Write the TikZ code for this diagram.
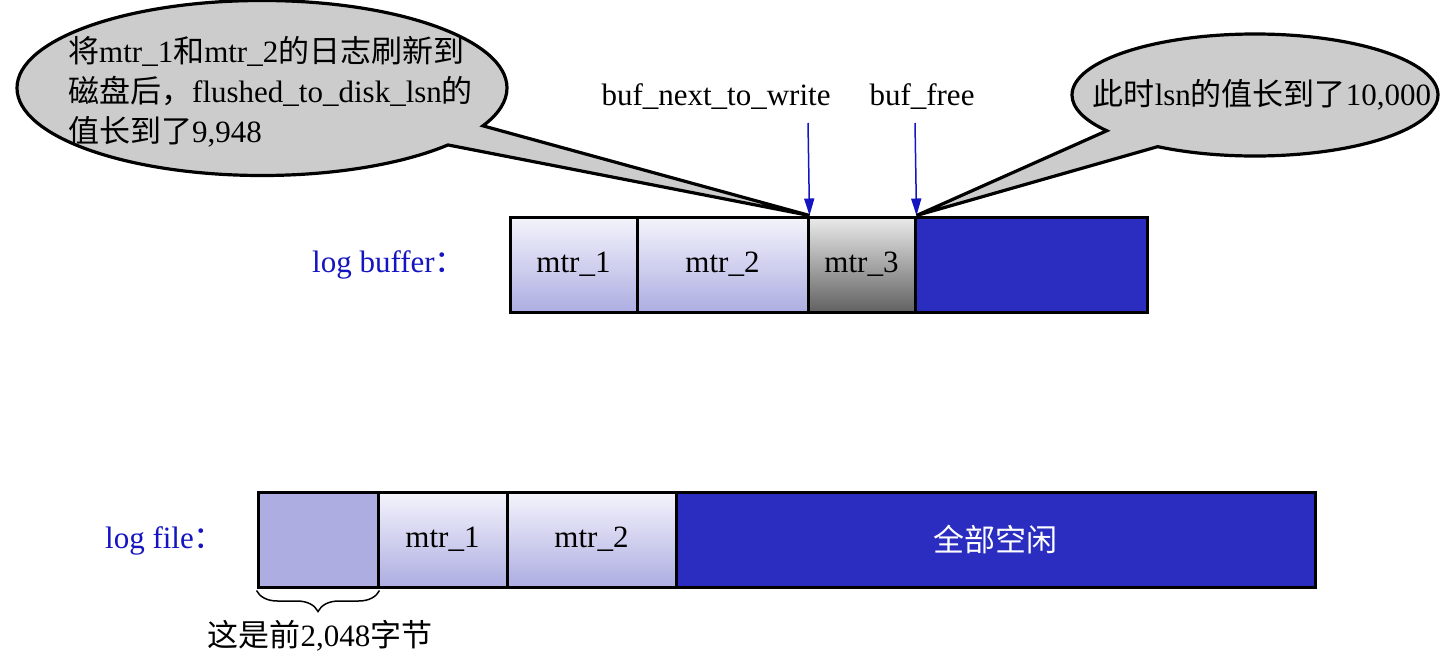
\documentclass[tikz,border=0pt]{standalone}
\usepackage{fontspec}
\setmainfont{Liberation Serif}
\newfontfamily\cjk{Noto Sans CJK SC}
\newcommand{\zh}[1]{{\cjk #1}}
\usetikzlibrary{shapes.callouts,decorations.pathreplacing,arrows.meta}
\definecolor{lav}{HTML}{ADADE2}
\definecolor{lavtop}{HTML}{F4F4FC}
\definecolor{fillblue}{HTML}{2A2DC0}
\definecolor{lblblue}{HTML}{1414C0}
\definecolor{bubble}{HTML}{CCCCCC}
\begin{document}
\begin{tikzpicture}[x=1pt,y=-1pt,
  every node/.style={font=\fontsize{31}{40}\selectfont, inner sep=0pt},
  cell/.style={draw=black, line width=3pt, minimum height=95pt},
  grad/.style={cell, top color=lavtop, bottom color=lav},
  solid lav/.style={cell, fill=lav},
  gray grad/.style={cell, top color=white!92!black, bottom color=black!62},
  freecell/.style={cell, fill=fillblue},
  lbl/.style={text=lblblue},
  ptr/.style={draw=lblblue, line width=1.5pt, -{Triangle[length=17pt,width=10pt]}},
  bubble/.style={ellipse callout, draw=black, line width=3.2pt, fill=bubble}
]
\useasboundingbox (0,0) rectangle (1447,656);

% log buffer
\node[grad, minimum width=127pt] (b1) at (573.5,264.5) {mtr\_1};
\node[grad, minimum width=171pt] (b2) at (722.5,264.5) {mtr\_2};
\node[gray grad, minimum width=107pt] (b3) at (861.5,264.5) {mtr\_3};
\node[freecell, minimum width=232pt] (b4) at (1031,264.5) {};
\node[lbl] (lb) at (389,265) {log buffer\zh{：}};

% pointers
\node (nw) at (716,97) {buf\_next\_to\_write};
\node (bf) at (922,97) {buf\_free};
\coordinate (nwt) at (808,123);
\coordinate (bft) at (915,123);
\draw[ptr] (nwt) -- (b2.north east);
\draw[ptr] (bft) -- (b3.north east);

% callouts
\node[bubble, minimum width=490pt, minimum height=175pt, callout pointer arc=15,
      callout absolute pointer={(b2.north east)}] (c1) at (262,88) {};
\node[align=left, anchor=west] (c1t) at (68,92)
  {\zh{将}mtr\_1\zh{和}mtr\_2\zh{的日志刷新到}\\
   \zh{磁盘后，}flushed\_to\_disk\_lsn\zh{的}\\
   \zh{值长到了}9,948};
\node[bubble, minimum width=366pt, minimum height=122pt, callout pointer arc=22,
      callout absolute pointer={(b3.north east)}] (c2) at (1255,95) {};
\node (c2t) at (1262,95) {\zh{此时}lsn\zh{的值长到了}10,000};

% log file
\node[solid lav, minimum width=120pt] (f0) at (318,539.5) {};
\node[grad, minimum width=129pt] (f1) at (442.5,539.5) {mtr\_1};
\node[grad, minimum width=169pt] (f2) at (591.5,539.5) {mtr\_2};
\node[freecell, minimum width=639pt, text=white] (f3) at (995.5,539.5) {\zh{全部空闲}};
\node[lbl] (lf) at (165,541) {log file\zh{：}};

\draw[line width=1.5pt, decorate, decoration={brace, mirror, amplitude=21pt}]
  ([yshift=-2pt]f0.south west) -- ([yshift=-2pt]f0.south east);
\node (bt) at (320,636) {\zh{这是前}2,048\zh{字节}};
\end{tikzpicture}
\end{document}
